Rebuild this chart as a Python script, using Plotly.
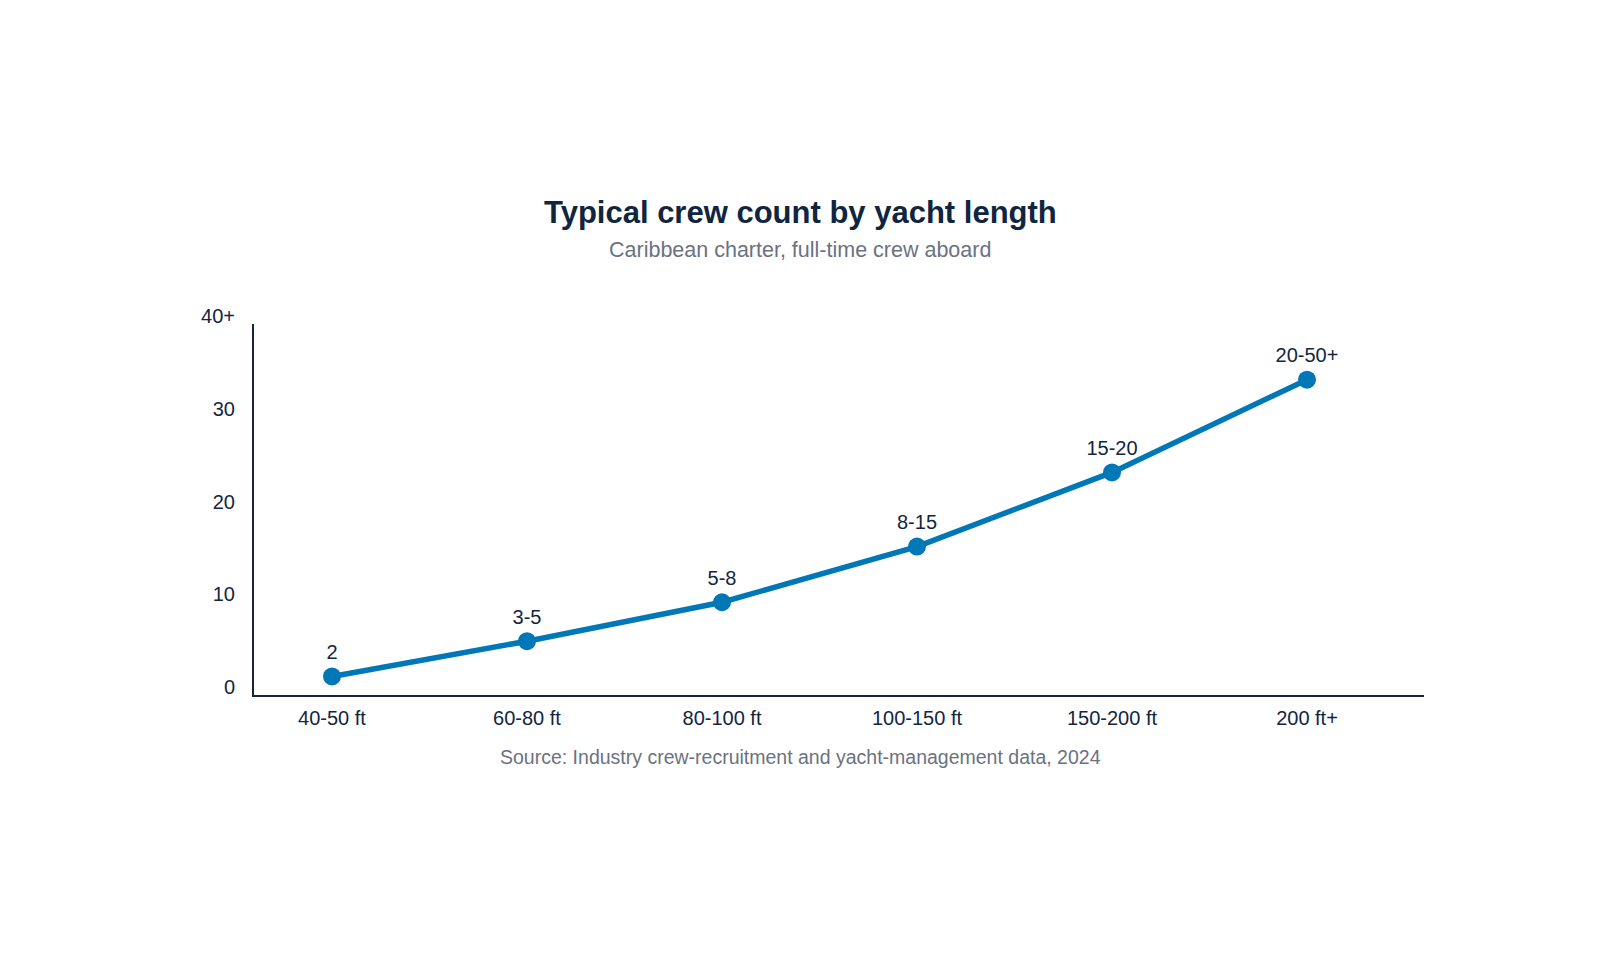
import plotly.graph_objects as go

# yacht length bands and the crew count plotted for each
lengths = ["40-50 ft", "60-80 ft", "80-100 ft", "100-150 ft", "150-200 ft", "200 ft+"]
crew = [2, 5.8, 10, 16, 24, 34]
crew_labels = ["2", "3-5", "5-8", "8-15", "15-20", "20-50+"]

y_ticks = [0, 10, 20, 30, 40]
y_tick_text = ["0", "10", "20", "30", "40+"]

blue = "#0077b6"
navy = "#12263f"
grey = "#6b7280"
font = "Liberation Sans, Arial, Helvetica, sans-serif"

# plot area spans y=316..687 px, annotations placed in paper units from that
top_px, bot_px = 316, 687
left_px, right_px = 246, 1416
def py(px):
    return (bot_px - px) / (bot_px - top_px)
def px_(px):
    return (px - left_px) / (right_px - left_px)

fig = go.Figure()
fig.add_trace(go.Scatter(
    x=lengths, y=crew,
    mode="lines+markers+text",
    text=crew_labels,
    textposition="top center",
    textfont=dict(size=20, color=navy, family=font),
    line=dict(color=blue, width=5.5),
    marker=dict(color=blue, size=18),
    cliponaxis=False,
    hoverinfo="skip",
))

fig.update_layout(
    width=1600, height=960,
    paper_bgcolor="white", plot_bgcolor="white",
    margin=dict(l=left_px, r=1600 - right_px, t=top_px, b=960 - bot_px),
    showlegend=False,
    font=dict(family=font, color=navy, size=20),
    xaxis=dict(
        type="category", range=[-0.4, 5.6],
        showgrid=False, zeroline=False,
        showline=True, linecolor=navy, linewidth=2,
        ticks="", ticklabelstandoff=4,
        tickfont=dict(size=20, color=navy),
        fixedrange=True,
    ),
    yaxis=dict(
        range=[0, 40], tickvals=y_ticks, ticktext=y_tick_text,
        showgrid=False, zeroline=False,
        showline=True, linecolor=navy, linewidth=2,
        ticks="", ticklabelstandoff=13, ticklabelshift=-8,
        tickfont=dict(size=20, color=navy),
        fixedrange=True,
    ),
    annotations=[
        dict(text="<b>Typical crew count by yacht length</b>", xref="paper", yref="paper",
             x=px_(792), y=py(204), xanchor="center", yanchor="middle", showarrow=False,
             font=dict(size=31, color="#0f2540", family=font)),
        dict(text="Caribbean charter, full-time crew aboard", xref="paper", yref="paper",
             x=px_(792), y=py(242), xanchor="center", yanchor="middle", showarrow=False,
             font=dict(size=21.5, color=grey, family=font)),
        dict(text="Source: Industry crew-recruitment and yacht-management data, 2024",
             xref="paper", yref="paper",
             x=px_(792), y=py(749), xanchor="center", yanchor="middle", showarrow=False,
             font=dict(size=19.5, color=grey, family=font)),
    ],
)

fig.write_html("out.html")
